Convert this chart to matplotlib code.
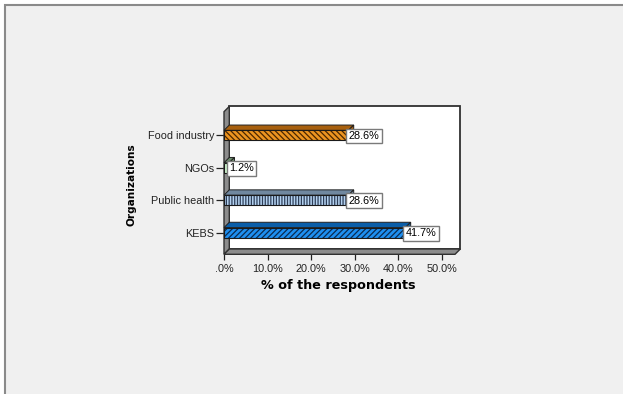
import matplotlib
matplotlib.use("Agg")
import matplotlib.pyplot as plt
from matplotlib.patches import Polygon

#------------------------------------------------------------------------------
#Data

organizations = ["KEBS", "Public health", "NGOs", "Food industry"]
percent = [41.7, 28.6, 1.2, 28.6]
value_labels = ["41.7%", "28.6%", "1.2%", "28.6%"]
x_ticks = [0, 10, 20, 30, 40, 50]
x_tick_labels = [".0%", "10.0%", "20.0%", "30.0%", "40.0%", "50.0%"]

front_colors = ["#1e8ff0", "#b4d2f0", "#ccf5cc", "#ec9420"]
top_colors = ["#0b5ea8", "#7088a0", "#6c8c6c", "#a8600e"]
hatch_colors = ["#0a2a50", "#2e3e58", "#3a5a3a", "#4a2600"]
hatches = ["//////", "||||||", "", "\\\\\\\\\\\\"]

#------------------------------------------------------------------------------
#Figure

plt.rcParams["font.family"] = ["Liberation Sans", "DejaVu Sans"]
plt.rcParams["hatch.linewidth"] = 0.9

fig = plt.figure(figsize=(6.23, 3.94), dpi=100)
fig.patch.set_facecolor("white")

# grey page with a border along the top and left
page = plt.Rectangle((5 / 623, -0.01), 1.0, 1.0 - 5 / 394 + 0.01,
                     transform=fig.transFigure, facecolor="#f0f0f0",
                     edgecolor="#8a8a8a", linewidth=1.5, zorder=-10)
fig.patches.append(page)

ax = fig.add_axes([224 / 623, (394 - 254.3) / 394, 231 / 623, 142.6 / 394])
ax.set_facecolor("none")
xmax = 53.1
y0, y1 = -0.67, 3.73
ax.set_xlim(0, xmax)
ax.set_ylim(y0, y1)
for s in ax.spines.values():
    s.set_visible(False)

# depth of the 3D look, in data units
bb = ax.get_window_extent()
px_x = bb.width / xmax
px_y = bb.height / (y1 - y0)
ddx = 5.3 / px_x
ddy = 5.3 / px_y

# back wall, left wall, floor
back = Polygon([(ddx, y0 + ddy), (xmax + ddx, y0 + ddy), (xmax + ddx, y1 + ddy), (ddx, y1 + ddy)],
               closed=True, facecolor="white", edgecolor="#303030", linewidth=1.3, clip_on=False, zorder=1)
left = Polygon([(0, y0), (ddx, y0 + ddy), (ddx, y1 + ddy), (0, y1)],
               closed=True, facecolor="#8c8c8c", edgecolor="#303030", linewidth=1.0, clip_on=False, zorder=2)
floor = Polygon([(0, y0), (xmax, y0), (xmax + ddx, y0 + ddy), (ddx, y0 + ddy)],
                closed=True, facecolor="#8c8c8c", edgecolor="#303030", linewidth=1.0, clip_on=False, zorder=2)
for p in (back, left, floor):
    ax.add_patch(p)

#------------------------------------------------------------------------------
#Bars

h = 0.31
ypos = range(len(organizations))
for i, v in enumerate(percent):
    top = [(0, i + h / 2), (v, i + h / 2), (v + ddx, i + h / 2 + ddy), (ddx, i + h / 2 + ddy)]
    side = [(v, i - h / 2), (v, i + h / 2), (v + ddx, i + h / 2 + ddy), (v + ddx, i - h / 2 + ddy)]
    ax.add_patch(Polygon(top, closed=True, facecolor=top_colors[i], edgecolor="#202020",
                         linewidth=0.7, clip_on=False, zorder=3))
    ax.add_patch(Polygon(side, closed=True, facecolor=top_colors[i], edgecolor="#202020",
                         linewidth=0.7, clip_on=False, zorder=3))

ax.barh(list(ypos), percent, height=h, color=front_colors, linewidth=0, zorder=4)
for i, v in enumerate(percent):
    ax.barh(i, v, height=h, facecolor="none", edgecolor=hatch_colors[i],
            hatch=hatches[i], linewidth=0, zorder=4)
ax.barh(list(ypos), percent, height=h, facecolor="none", edgecolor="#1a1a1a",
        linewidth=0.8, zorder=5)

for i, v in enumerate(percent):
    ax.text(v, i - 0.02, value_labels[i], ha="left", va="center", fontsize=7.8,
            zorder=6, bbox=dict(boxstyle="square,pad=0.22", facecolor="white",
                                edgecolor="#7a7a7a", linewidth=1.0))

#------------------------------------------------------------------------------
#Axes labels

ax.set_yticks(list(ypos))
ax.set_yticklabels(organizations, fontsize=7.8)
ax.set_xticks(x_ticks)
ax.set_xticklabels(x_tick_labels, fontsize=7.8)
ax.tick_params(axis="y", length=6, width=0.9, pad=1, colors="#222222")
ax.tick_params(axis="x", length=4, width=0.9, pad=3, colors="#222222")

fig.text(338 / 623, 1 - 285 / 394, "% of the respondents", ha="center", va="center",
         fontsize=9.2, fontweight="bold", family="DejaVu Sans")
fig.text(131.7 / 623, 1 - 184.3 / 394, "Organizations", ha="center", va="center",
         rotation=90, fontsize=7.6, fontweight="bold", family="DejaVu Sans")

fig.savefig("out.png", dpi=100)
